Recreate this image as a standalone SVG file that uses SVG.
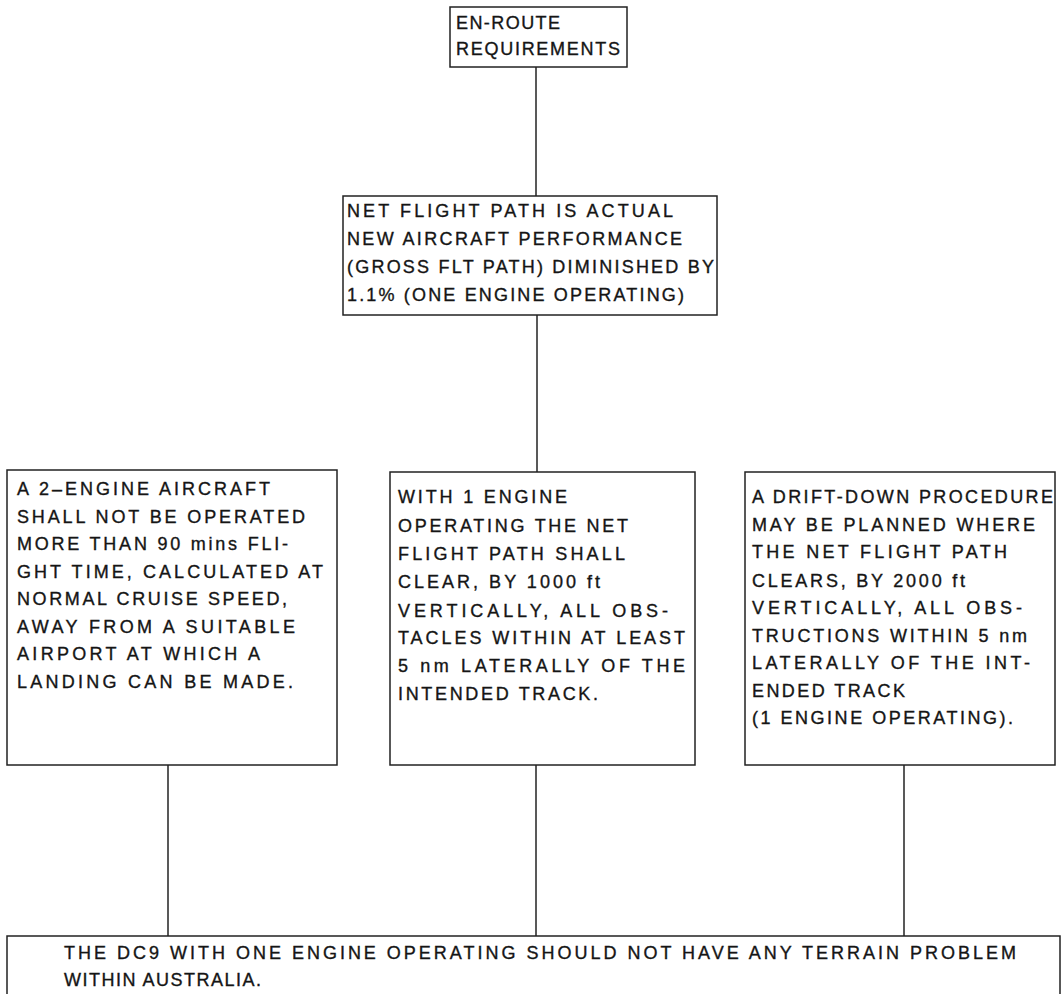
<svg xmlns="http://www.w3.org/2000/svg" width="1064" height="994" viewBox="0 0 1064 994">
<style>
.box{fill:#fff;stroke:#222;stroke-width:1.5}
.con{stroke:#222;stroke-width:1.5;fill:none}
text{font-family:"Liberation Sans",Arial,sans-serif;font-size:18px;fill:#151515;stroke:#151515;stroke-width:0.35}
</style>
<rect width="1064" height="994" fill="#fff"/>
<g id="connectors">
<line class="con" x1="536" y1="67" x2="536" y2="196"/>
<line class="con" x1="537" y1="315" x2="537" y2="472"/>
<line class="con" x1="168" y1="765" x2="168" y2="936"/>
<line class="con" x1="536" y1="765" x2="536" y2="936"/>
<line class="con" x1="904" y1="765" x2="904" y2="936"/>
</g>
<g id="enroute">
<rect class="box" x="450" y="7" width="177" height="60"/>
<text x="456" y="29" textLength="104" lengthAdjust="spacing">EN-ROUTE</text>
<text x="456" y="55" textLength="164" lengthAdjust="spacing">REQUIREMENTS</text>
</g>
<g id="netpath">
<rect class="box" x="343" y="196" width="374" height="119"/>
<text x="347" y="217" textLength="326" lengthAdjust="spacing">NET FLIGHT PATH IS ACTUAL</text>
<text x="347" y="245" textLength="335" lengthAdjust="spacing">NEW AIRCRAFT PERFORMANCE</text>
<text x="347" y="273" textLength="367" lengthAdjust="spacing">(GROSS FLT PATH) DIMINISHED BY</text>
<text x="347" y="301" textLength="337" lengthAdjust="spacing">1.1% (ONE ENGINE OPERATING)</text>
</g>
<g id="twoengine">
<rect class="box" x="7" y="470" width="330" height="295"/>
<text x="17" y="495" textLength="253" lengthAdjust="spacing">A 2–ENGINE AIRCRAFT</text>
<text x="17" y="523" textLength="288" lengthAdjust="spacing">SHALL NOT BE OPERATED</text>
<text x="17" y="550" textLength="271" lengthAdjust="spacing">MORE THAN 90 mins FLI-</text>
<text x="17" y="578" textLength="306" lengthAdjust="spacing">GHT TIME, CALCULATED AT</text>
<text x="17" y="605" textLength="270" lengthAdjust="spacing">NORMAL CRUISE SPEED,</text>
<text x="17" y="633" textLength="278" lengthAdjust="spacing">AWAY FROM A SUITABLE</text>
<text x="17" y="660" textLength="243" lengthAdjust="spacing">AIRPORT AT WHICH A</text>
<text x="17" y="688" textLength="276" lengthAdjust="spacing">LANDING CAN BE MADE.</text>
</g>
<g id="oneengine">
<rect class="box" x="390" y="472" width="305" height="293"/>
<text x="398" y="503" textLength="169" lengthAdjust="spacing">WITH 1 ENGINE</text>
<text x="398" y="532" textLength="230" lengthAdjust="spacing">OPERATING THE NET</text>
<text x="398" y="560" textLength="227" lengthAdjust="spacing">FLIGHT PATH SHALL</text>
<text x="398" y="588" textLength="202" lengthAdjust="spacing">CLEAR, BY 1000 ft</text>
<text x="398" y="617" textLength="270" lengthAdjust="spacing">VERTICALLY, ALL OBS-</text>
<text x="398" y="644" textLength="287" lengthAdjust="spacing">TACLES WITHIN AT LEAST</text>
<text x="398" y="672" textLength="287" lengthAdjust="spacing">5 nm LATERALLY OF THE</text>
<text x="398" y="700" textLength="200" lengthAdjust="spacing">INTENDED TRACK.</text>
</g>
<g id="driftdown">
<rect class="box" x="745" y="472" width="310" height="293"/>
<text x="752" y="503" textLength="301" lengthAdjust="spacing">A DRIFT-DOWN PROCEDURE</text>
<text x="752" y="531" textLength="283" lengthAdjust="spacing">MAY BE PLANNED WHERE</text>
<text x="752" y="558" textLength="255" lengthAdjust="spacing">THE NET FLIGHT PATH</text>
<text x="752" y="587" textLength="213" lengthAdjust="spacing">CLEARS, BY 2000 ft</text>
<text x="752" y="614" textLength="270" lengthAdjust="spacing">VERTICALLY, ALL OBS-</text>
<text x="752" y="642" textLength="275" lengthAdjust="spacing">TRUCTIONS WITHIN 5 nm</text>
<text x="752" y="669" textLength="278" lengthAdjust="spacing">LATERALLY OF THE INT-</text>
<text x="752" y="697" textLength="153" lengthAdjust="spacing">ENDED TRACK</text>
<text x="752" y="724" textLength="261" lengthAdjust="spacing">(1 ENGINE OPERATING).</text>
</g>
<g id="dc9">
<rect class="box" x="7" y="936" width="1053" height="70"/>
<text x="64" y="959" textLength="952" lengthAdjust="spacing">THE DC9 WITH ONE ENGINE OPERATING SHOULD NOT HAVE ANY TERRAIN PROBLEM</text>
<text x="64" y="986" textLength="197" lengthAdjust="spacing">WITHIN AUSTRALIA.</text>
</g>
</svg>
